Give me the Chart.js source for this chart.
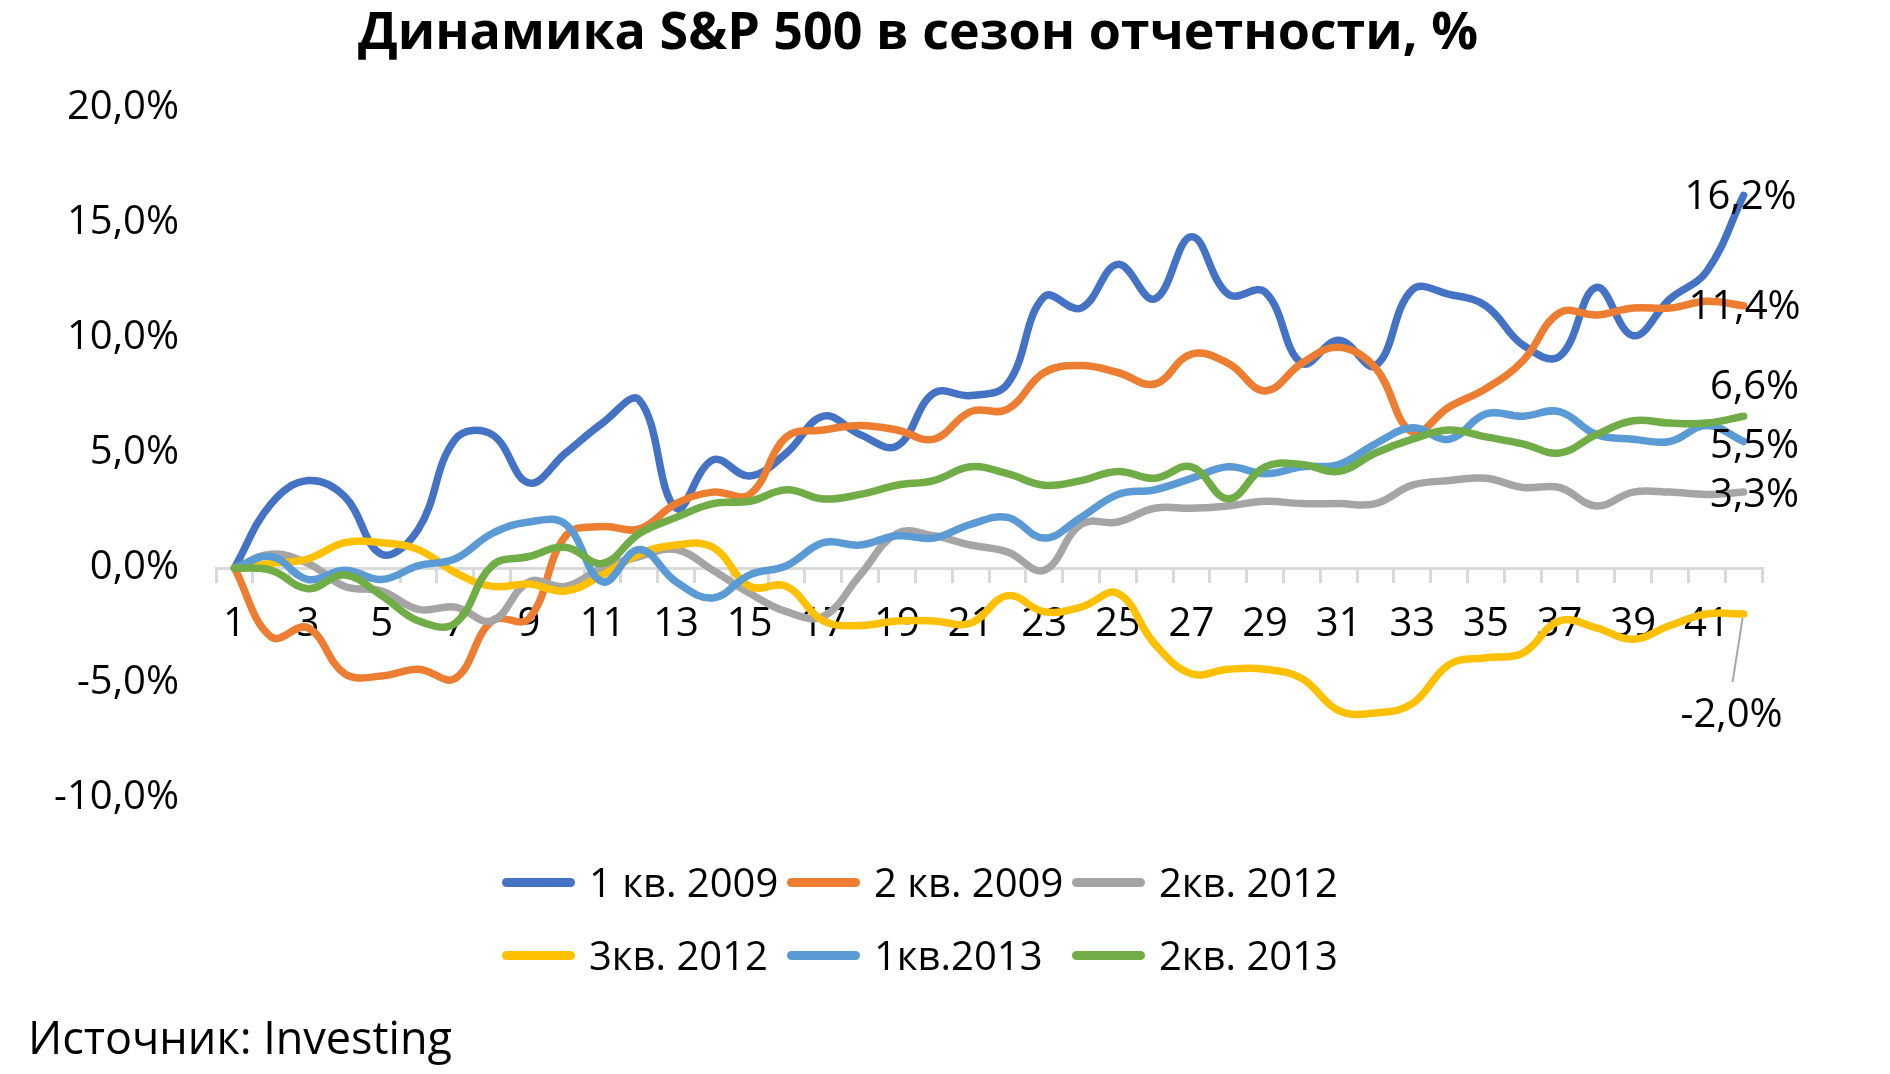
<!DOCTYPE html>
<html lang="ru">
<head>
<meta charset="utf-8">
<title>Динамика S&amp;P 500 в сезон отчетности</title>
<script src="https://cdn.jsdelivr.net/npm/chart.js@4.4.1/dist/chart.umd.min.js"></script>
<style>
  html, body { margin: 0; padding: 0; background: #fff; }
  body {
    position: relative;
    width: 1890px;
    height: 1074px;
    overflow: hidden;
    font-family: "Open Sans", sans-serif;
    color: #000;
  }
  #chart { position: absolute; left: 0; top: 0; }
  .chart-title {
    position: absolute;
    left: 0;
    top: 3px;
    width: 1836px;
    text-align: center;
    font-size: 52px;
    font-weight: 700;
    line-height: 1;
    white-space: nowrap;
  }
  .chart-legend {
    position: absolute;
    left: 502px;
    top: 862px;
    display: grid;
    grid-template-columns: repeat(3, 285px);
    grid-auto-rows: 73px;
  }
  .legend-item { display: flex; align-items: center; height: 40px; }
  .legend-item__line {
    width: 73px;
    height: 9px;
    border-radius: 5px;
    margin-right: 14px;
    flex: none;
  }
  .legend-item__text { font-size: 40px; line-height: 1; white-space: nowrap; }
  .chart-source {
    position: absolute;
    left: 28px;
    top: 1014px;
    font-size: 45px;
    line-height: 1;
    white-space: nowrap;
  }
</style>
</head>
<body>
<div class="chart-title">Динамика S&amp;P 500 в сезон отчетности, %</div>
<canvas id="chart" width="1890" height="1074"></canvas>
<div class="chart-legend"></div>
<div class="chart-source">Источник: Investing</div>

<script>
  // дни сезона отчетности
  const days = [1, 2, 3, 4, 5, 6, 7, 8, 9, 10, 11, 12, 13, 14, 15, 16, 17, 18, 19, 20, 21,
    22, 23, 24, 25, 26, 27, 28, 29, 30, 31, 32, 33, 34, 35, 36, 37, 38, 39, 40, 41, 42];

  const seriesNames = ["1 кв. 2009", "2 кв. 2009", "2кв. 2012", "3кв. 2012", "1кв.2013", "2кв. 2013"];
  const seriesColors = ["#4472C4", "#ED7D31", "#A5A5A5", "#FFC000", "#5B9BD5", "#70AD47"];

  const q1_2009 = [0, 2.8, 3.8, 3.1, 0.6, 1.7, 5.6, 5.8, 3.7, 5.0, 6.3, 7.3, 2.6, 4.7, 4.0, 5.0, 6.6,
    5.8, 5.3, 7.6, 7.5, 8.0, 11.8, 11.3, 13.2, 11.7, 14.4, 11.9, 12.0, 8.9, 9.9, 8.8, 12.1, 11.9,
    11.4, 9.7, 9.2, 12.2, 10.1, 11.7, 12.9, 16.2];
  const q2_2009 = [0, -3.0, -2.6, -4.6, -4.7, -4.4, -4.8, -2.3, -2.2, 1.4, 1.8, 1.7, 2.8, 3.3, 3.2,
    5.7, 6.0, 6.2, 6.0, 5.6, 6.8, 6.9, 8.5, 8.8, 8.5, 8.0, 9.3, 8.9, 7.7, 8.9, 9.6, 8.7, 5.9, 7.0,
    7.8, 9.0, 11.1, 11.0, 11.3, 11.3, 11.6, 11.4];
  const q2_2012 = [0, 0.6, 0.2, -0.8, -1.0, -1.8, -1.7, -2.3, -0.6, -0.8, 0.0, 0.5, 0.8, -0.1, -1.1,
    -1.9, -2.1, -0.3, 1.5, 1.4, 1.0, 0.7, -0.1, 1.9, 2.0, 2.6, 2.6, 2.7, 2.9, 2.8, 2.8, 2.8, 3.6,
    3.8, 3.9, 3.5, 3.5, 2.7, 3.3, 3.3, 3.2, 3.3];
  const q3_2012 = [0, 0.2, 0.4, 1.1, 1.1, 0.8, -0.2, -0.8, -0.7, -1.0, -0.3, 0.6, 1.0, 0.9, -0.8,
    -0.8, -2.3, -2.5, -2.3, -2.3, -2.4, -1.2, -1.9, -1.7, -1.1, -3.3, -4.6, -4.4, -4.4, -4.8, -6.2,
    -6.3, -5.9, -4.2, -3.9, -3.7, -2.3, -2.6, -3.1, -2.5, -2.0, -2.0];
  const q1_2013 = [0, 0.5, -0.5, -0.1, -0.5, 0.1, 0.4, 1.5, 2.0, 1.9, -0.6, 0.8, -0.6, -1.3, -0.3,
    0.1, 1.1, 1.0, 1.4, 1.3, 1.9, 2.2, 1.3, 2.2, 3.2, 3.4, 3.9, 4.4, 4.1, 4.4, 4.5, 5.4, 6.1, 5.6,
    6.7, 6.6, 6.8, 5.8, 5.6, 5.5, 6.2, 5.5];
  const q2_2013 = [0, -0.1, -0.9, -0.3, -1.2, -2.3, -2.4, 0.1, 0.5, 0.9, 0.2, 1.5, 2.2, 2.8, 2.9,
    3.4, 3.0, 3.2, 3.6, 3.8, 4.4, 4.1, 3.6, 3.8, 4.2, 3.9, 4.4, 3.0, 4.4, 4.5, 4.2, 5.0, 5.6, 6.0,
    5.7, 5.4, 5.0, 5.8, 6.4, 6.3, 6.3, 6.6];

  const seriesValues = [q1_2009, q2_2009, q2_2012, q3_2012, q1_2013, q2_2013];

  const yTicks = { min: -10, max: 20, step: 5 };

  const FONT = "'Open Sans', sans-serif";

  function formatPct(value, digits) {
    return Number(value).toFixed(digits).replace(".", ",") + "%";
  }

  // подписи последних значений: сдвиг от точки [dx, dy, выноска]
  const endLabelShifts = [[-3, 2], [1, 2], [11, 4], [-12, 102, true], [11, 5], [11, -29]];

  const endLabelsPlugin = {
    id: "endLabels",
    afterDatasetsDraw(chart, args, opts) {
      const { ctx } = chart;
      ctx.save();
      ctx.font = "40px " + FONT;
      ctx.fillStyle = "#000";
      ctx.textAlign = "center";
      ctx.textBaseline = "middle";

      chart.data.datasets.forEach((dataset, index) => {
        const meta = chart.getDatasetMeta(index);
        const point = meta.data[meta.data.length - 1];
        const value = dataset.data[dataset.data.length - 1];
        const shift = opts.shifts[index];
        const lx = point.x + shift[0];
        const ly = point.y + shift[1];

        if (shift[2]) {
          ctx.strokeStyle = "#A6A6A6";
          ctx.lineWidth = 2;
          ctx.beginPath();
          ctx.moveTo(point.x - 1, point.y + 4);
          ctx.lineTo(lx + 1, ly - 34);
          ctx.stroke();
        }

        ctx.fillText(formatPct(value, 1), lx, ly);
      });

      ctx.restore();
    },
  };

  const datasets = seriesValues.map((values, i) => ({
    label: seriesNames[i],
    data: values,
    borderColor: seriesColors[i],
    backgroundColor: seriesColors[i],
    borderWidth: 7.5,
    borderCapStyle: "round",
    borderJoinStyle: "round",
    pointRadius: 0,
    tension: 0.4,
    fill: false,
    order: seriesValues.length - i,
  }));

  const $legend = document.querySelector(".chart-legend");
  seriesNames.forEach((name, i) => {
    const $item = document.createElement("div");
    $item.className = "legend-item";
    $item.innerHTML = `
      <span class="legend-item__line" style="background:${seriesColors[i]}"></span>
      <span class="legend-item__text">${name}</span>
    `;
    $legend.appendChild($item);
  });

  const ctx = document.getElementById("chart").getContext("2d");

  new Chart(ctx, {
    type: "line",
    data: { labels: days, datasets },
    options: {
      responsive: false,
      animation: false,
      layout: {
        padding: { left: 0, right: 128, top: 108, bottom: 276 },
      },
      plugins: {
        legend: { display: false },
        title: { display: false },
        tooltip: { enabled: false },
        endLabels: { shifts: endLabelShifts },
      },
      scales: {
        x: {
          position: { y: 0 },
          offset: true,
          grid: {
            offset: true,
            drawOnChartArea: false,
            drawTicks: true,
            tickLength: 13,
            color: "#D9D9D9",
            lineWidth: 3,
          },
          border: { display: true, color: "#D9D9D9", width: 3 },
          ticks: {
            autoSkip: false,
            maxRotation: 0,
            padding: 20,
            color: "#000",
            font: { family: FONT, size: 40 },
            callback(value, index) {
              return index % 2 === 0 ? this.getLabelForValue(value) : "";
            },
          },
          afterFit(scale) {
            scale.height = 0;
          },
        },
        y: {
          min: yTicks.min,
          max: yTicks.max,
          grid: { display: false },
          border: { display: false },
          ticks: {
            stepSize: yTicks.step,
            padding: 29,
            color: "#000",
            font: { family: FONT, size: 40 },
            callback: (value) => formatPct(value, 1),
          },
          afterFit(scale) {
            scale.width = 216;
          },
        },
      },
    },
    plugins: [endLabelsPlugin],
  });
</script>
</body>
</html>
